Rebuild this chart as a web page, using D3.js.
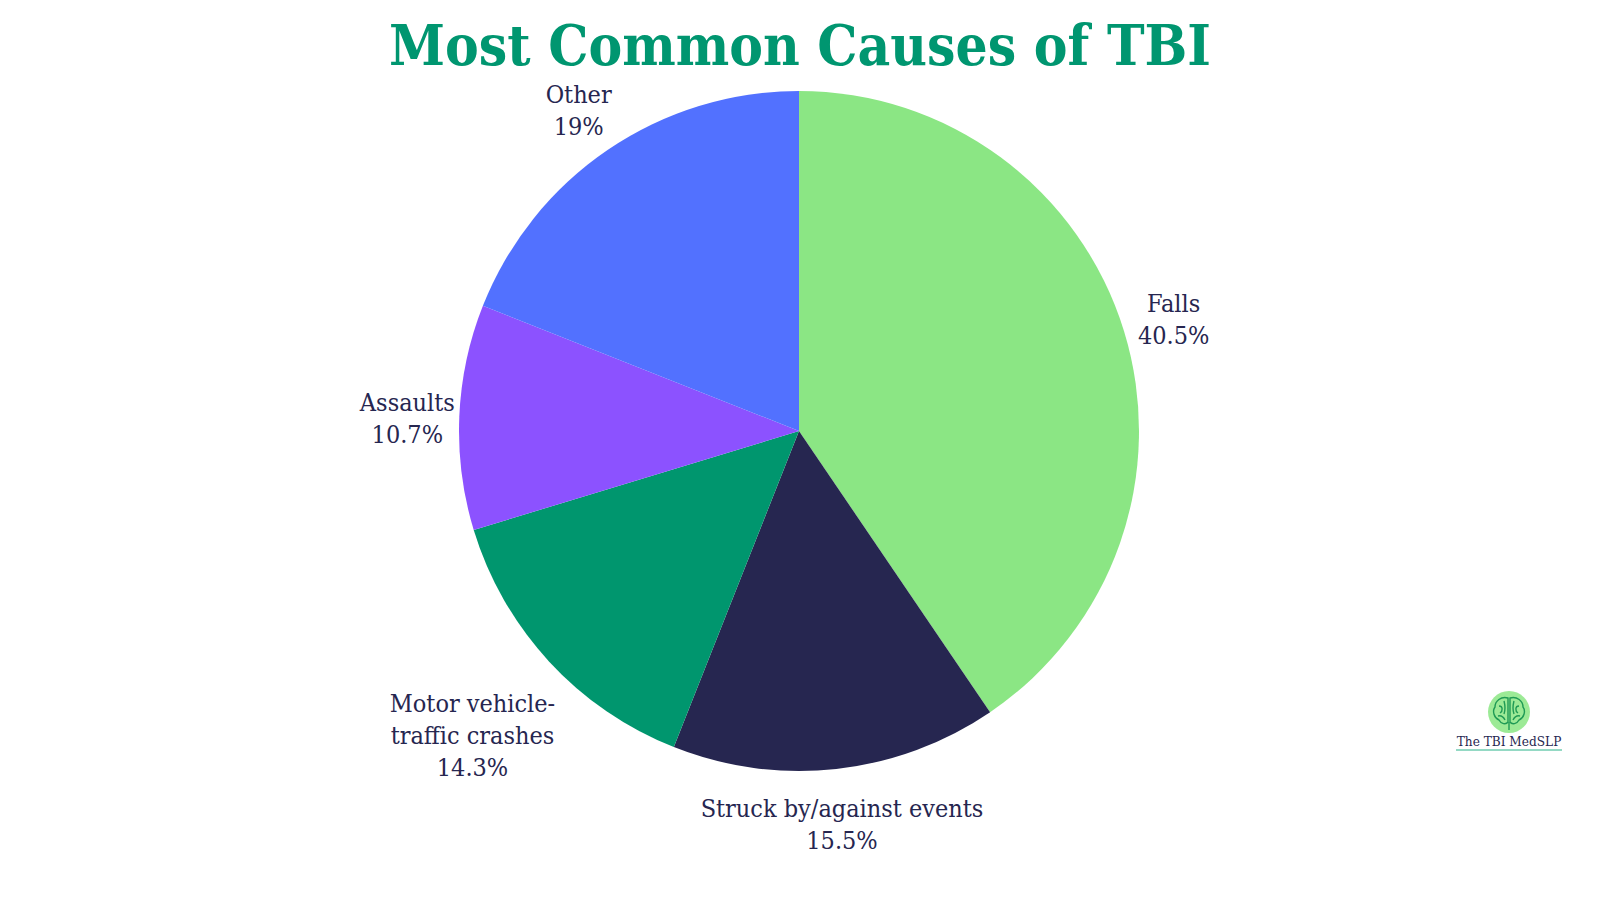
<!DOCTYPE html>
<html>
<head>
<meta charset="utf-8">
<script src="https://cdn.jsdelivr.net/npm/d3@7"></script>
<style>
  body { margin: 0; background: #fff; }
  svg { display: block; }
</style>
</head>
<body>
<div id="chart"></div>
<script>
// data
const causes = ["Falls", "Struck by/against events", "Motor vehicle-traffic crashes", "Assaults", "Other"];
const shares = [40.5, 15.5, 14.3, 10.7, 19];
const labelLines = [["Falls"], ["Struck by/against events"], ["Motor vehicle-", "traffic crashes"], ["Assaults"], ["Other"]];
const sliceColors = ["#8be684", "#262650", "#00966e", "#8c52ff", "#5271ff"];

const width = 1600;
const height = 900;
const cx = 799, cy = 431;
const radius = 340;
const labelRadius = 392;

const svg = d3.select("#chart").append("svg")
    .attr("width", width)
    .attr("height", height);

// title
svg.append("text")
    .attr("x", width / 2)
    .attr("y", 65)
    .attr("text-anchor", "middle")
    .attr("font-family", "DejaVu Serif")
    .attr("font-weight", "bold")
    .attr("font-size", 56)
    .attr("textLength", 822)
    .attr("lengthAdjust", "spacingAndGlyphs")
    .attr("fill", "#009670")
    .text("Most Common Causes of TBI");

const color = d3.scaleOrdinal(causes, sliceColors);

const pie = d3.pie().sort(null).value((d, i) => shares[i]);
const arcs = pie(causes);

const arc = d3.arc().innerRadius(0).outerRadius(radius);

const g = svg.append("g").attr("transform", `translate(${cx},${cy})`);

g.selectAll("path")
  .data(arcs)
  .join("path")
    .attr("d", arc)
    .attr("fill", d => color(d.data));

// labels: name lines + percentage, block centred outside the slice;
// taller blocks are pushed further out
const lineH = 32;
g.selectAll("text.label")
  .data(arcs)
  .join("text")
    .attr("class", "label")
    .attr("text-anchor", "middle")
    .attr("font-family", "DejaVu Serif Condensed")
    .attr("font-size", 25)
    .attr("fill", "#262650")
    .each(function(d, i) {
        const lines = labelLines[i].concat(`${shares[i]}%`);
        const r = labelRadius + (lines.length - 2) * 52;
        const [x, y] = d3.arc().innerRadius(r).outerRadius(r).centroid(d);
        const y0 = y - (lines.length - 1) * lineH / 2 + 12;
        d3.select(this).selectAll("tspan")
          .data(lines)
          .join("tspan")
            .attr("x", x)
            .attr("y", (t, j) => y0 + j * lineH)
            .text(t => t);
    });

// logo
const logo = svg.append("g").attr("transform", "translate(1509,712)");
logo.append("circle").attr("r", 21).attr("fill", "#8be684").attr("opacity", 0.85);
const brain = logo.append("g")
    .attr("fill", "none")
    .attr("stroke", "#1f9a55")
    .attr("stroke-width", 1.4);
brain.append("path").attr("d", "M-1,-14 C-8,-16 -14,-11 -14,-5 C-17,-1 -15,6 -10,8 C-8,12 -3,13 -1,10 Z");
brain.append("path").attr("d", "M1,-14 C8,-16 14,-11 14,-5 C17,-1 15,6 10,8 C8,12 3,13 1,10 Z");
brain.append("path").attr("d", "M-10,-6 C-6,-6 -6,-1 -9,1 M-5,-11 C-4,-7 -3,-4 -5,2 M-11,4 C-7,3 -5,6 -4,8");
brain.append("path").attr("d", "M10,-6 C6,-6 6,-1 9,1 M5,-11 C4,-7 3,-4 5,2 M11,4 C7,3 5,6 4,8");
brain.append("path").attr("d", "M0,10 L0,18");
logo.append("text")
    .attr("y", 34)
    .attr("text-anchor", "middle")
    .attr("font-family", "DejaVu Serif Condensed")
    .attr("font-size", 13.5)
    .attr("fill", "#262650")
    .text("The TBI MedSLP");
logo.append("line")
    .attr("x1", -53).attr("x2", 53)
    .attr("y1", 38).attr("y2", 38)
    .attr("stroke", "#2bb38a")
    .attr("stroke-width", 1.2);
</script>
</body>
</html>
